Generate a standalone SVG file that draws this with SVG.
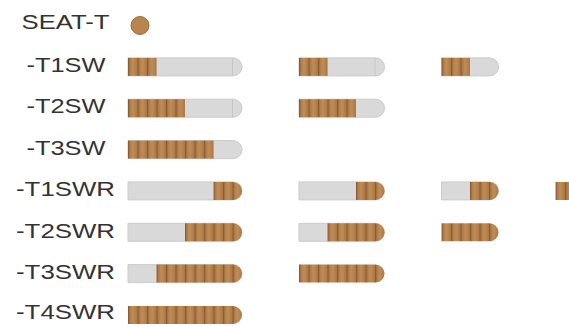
<svg xmlns="http://www.w3.org/2000/svg" width="569" height="327" viewBox="0 0 569 327">
<style>
.lbl{font-family:"Liberation Sans",Arial,sans-serif;font-size:21px;fill:#333333;text-anchor:middle}
.g{fill:#d9d9d9;stroke:#cbcbcb;stroke-width:1}
.b{fill:url(#stripe)}
.cap{fill:none;stroke:#c6c6c6;stroke-width:1}
</style>
<defs>
<linearGradient id="unit" x1="0" y1="0" x2="1" y2="0">
<stop offset="0" stop-color="#a27141"/>
<stop offset="0.5" stop-color="#c18d57"/>
<stop offset="1" stop-color="#aa7845"/>
</linearGradient>
<pattern id="stripe" patternUnits="userSpaceOnUse" x="4.5" y="0" width="9.5" height="20">
<rect width="9.5" height="20" fill="url(#unit)"/>
<rect x="0" width="1.2" height="20" fill="#8a5c32"/>
</pattern>
</defs>
<g id="labels">
<text class="lbl" x="65.5" y="29" textLength="88" lengthAdjust="spacingAndGlyphs">SEAT-T</text>
<text class="lbl" x="66" y="72" textLength="79" lengthAdjust="spacingAndGlyphs">-T1SW</text>
<text class="lbl" x="66" y="113" textLength="79" lengthAdjust="spacingAndGlyphs">-T2SW</text>
<text class="lbl" x="66" y="155" textLength="79" lengthAdjust="spacingAndGlyphs">-T3SW</text>
<text class="lbl" x="65.5" y="196" textLength="99" lengthAdjust="spacingAndGlyphs">-T1SWR</text>
<text class="lbl" x="65.5" y="238" textLength="99" lengthAdjust="spacingAndGlyphs">-T2SWR</text>
<text class="lbl" x="65.5" y="279" textLength="99" lengthAdjust="spacingAndGlyphs">-T3SWR</text>
<text class="lbl" x="65.5" y="319" textLength="99" lengthAdjust="spacingAndGlyphs">-T4SWR</text>
</g>
<g id="seat-t">
<circle cx="140" cy="25.5" r="9" fill="#b8854f" stroke="#9a6a3c" stroke-width="1"/>
</g>
<g id="t1sw">
<path class="g" d="M128 57.9H233A9 9 0 0 1 233 75.9H128Z"/>
<path class="cap" d="M232.5 57.9V75.9"/>
<rect class="b" x="128" y="57.9" width="28.5" height="18"/>
<path class="g" d="M299 57.9H375.5A9 9 0 0 1 375.5 75.9H299Z"/>
<path class="cap" d="M375 57.9V75.9"/>
<rect class="b" x="299" y="57.9" width="28.5" height="18"/>
<path class="g" d="M441.5 57.9H489.5A9 9 0 0 1 489.5 75.9H441.5Z"/>
<rect class="b" x="441.5" y="57.9" width="28.5" height="18"/>
</g>
<g id="t2sw">
<path class="g" d="M128 99.2H233A9 9 0 0 1 233 117.2H128Z"/>
<path class="cap" d="M232.5 99.2V117.2"/>
<rect class="b" x="128" y="99.2" width="57" height="18"/>
<path class="g" d="M299 99.2H375.5A9 9 0 0 1 375.5 117.2H299Z"/>
<rect class="b" x="299" y="99.2" width="57" height="18"/>
</g>
<g id="t3sw">
<path class="g" d="M128 140.6H233A9 9 0 0 1 233 158.6H128Z"/>
<rect class="b" x="128" y="140.6" width="85.5" height="18"/>
</g>
<g id="t1swr">
<path class="g" d="M128 181.9H233A9 9 0 0 1 233 199.9H128Z"/>
<path class="b" d="M213.5 181.9H233A9 9 0 0 1 233 199.9H213.5Z"/>
<path class="g" d="M299 181.9H375.5A9 9 0 0 1 375.5 199.9H299Z"/>
<path class="b" d="M356 181.9H375.5A9 9 0 0 1 375.5 199.9H356Z"/>
<path class="g" d="M441.5 181.9H489.5A9 9 0 0 1 489.5 199.9H441.5Z"/>
<path class="b" d="M470 181.9H489.5A9 9 0 0 1 489.5 199.9H470Z"/>
<path class="b" d="M555.5 181.9H575A9 9 0 0 1 575 199.9H555.5Z"/>
</g>
<g id="t2swr">
<path class="g" d="M128 223.3H233A9 9 0 0 1 233 241.3H128Z"/>
<path class="b" d="M185 223.3H233A9 9 0 0 1 233 241.3H185Z"/>
<path class="g" d="M299 223.3H375.5A9 9 0 0 1 375.5 241.3H299Z"/>
<path class="b" d="M327.5 223.3H375.5A9 9 0 0 1 375.5 241.3H327.5Z"/>
<path class="b" d="M441.5 223.3H489.5A9 9 0 0 1 489.5 241.3H441.5Z"/>
</g>
<g id="t3swr">
<path class="g" d="M128 264.6H233A9 9 0 0 1 233 282.6H128Z"/>
<path class="b" d="M156.5 264.6H233A9 9 0 0 1 233 282.6H156.5Z"/>
<path class="b" d="M299 264.6H375.5A9 9 0 0 1 375.5 282.6H299Z"/>
</g>
<g id="t4swr">
<path class="b" d="M128 306H233A9 9 0 0 1 233 324H128Z"/>
</g>
</svg>
